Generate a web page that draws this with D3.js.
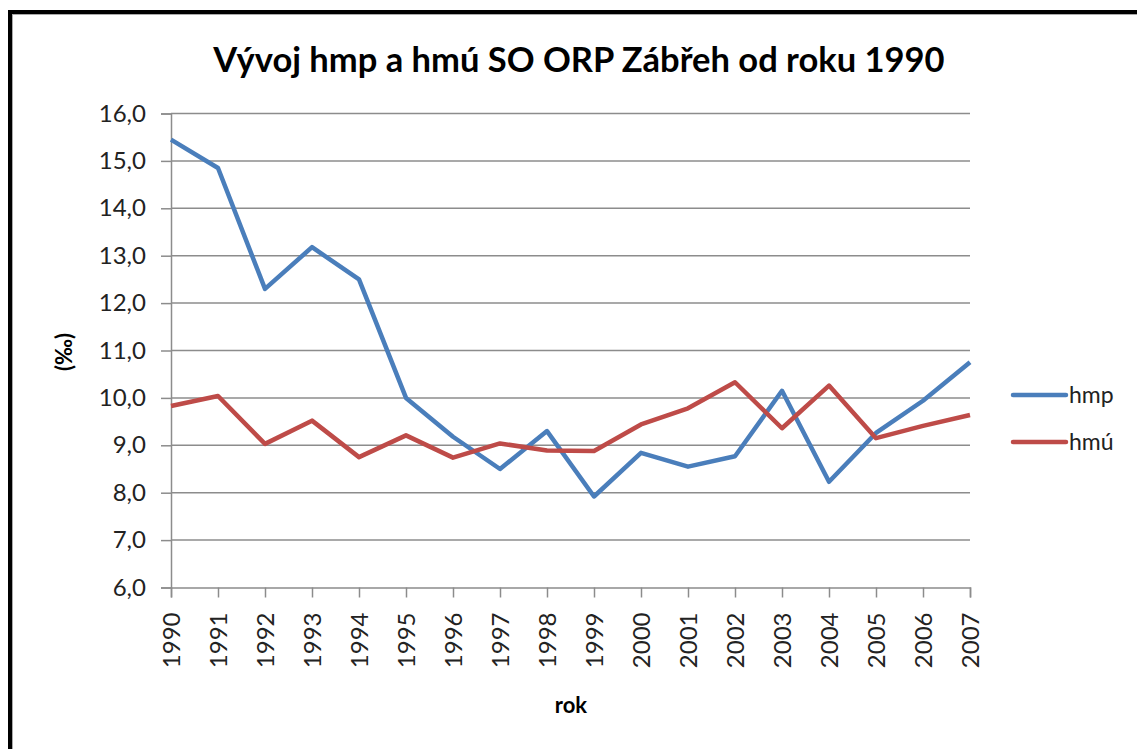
<!DOCTYPE html>
<html>
<head>
<meta charset="utf-8">
<script src="https://cdn.jsdelivr.net/npm/d3@7"></script>
<style>
  body { margin: 0; background: #fff; }
  text { font-family: Lato, "Open Sans", sans-serif; fill: #000; }
</style>
</head>
<body>
<svg id="chart" width="1137" height="749"></svg>
<script>
// data
var years = [1990, 1991, 1992, 1993, 1994, 1995, 1996, 1997, 1998, 1999,
             2000, 2001, 2002, 2003, 2004, 2005, 2006, 2007];
var hmp = [15.45, 14.85, 12.3, 13.18, 12.5, 10.0, 9.18, 8.5, 9.3, 7.92,
           8.84, 8.55, 8.77, 10.15, 8.23, 9.26, 9.94, 10.75];
var hmu = [9.83, 10.04, 9.03, 9.52, 8.75, 9.21, 8.74, 9.04, 8.89, 8.88,
           9.44, 9.78, 10.33, 9.36, 10.26, 9.15, 9.41, 9.64];
var yTicks = [6, 7, 8, 9, 10, 11, 12, 13, 14, 15, 16];
var seriesNames = ["hmp", "hmú"];
var colors = ["#4a7ebb", "#be4b48"];

var svg = d3.select('#chart');
var margin = { top: 113.5, left: 171, right: 167, bottom: 161.5 };
var width = 1137 - margin.left - margin.right,
    height = 749 - margin.top - margin.bottom;

// outer frame (cut off at right and bottom like the reference)
svg.append('rect')
  .attr('x', 10).attr('y', 12)
  .attr('width', 1200).attr('height', 800)
  .attr('fill', 'none')
  .attr('stroke', '#000')
  .attr('stroke-width', 4);
svg.append('rect')
  .attr('x', 12.5).attr('y', 14.5)
  .attr('width', 1200).attr('height', 800)
  .attr('fill', 'none')
  .attr('stroke', '#aaa')
  .attr('stroke-width', 1);

var x = d3.scaleLinear()
  .domain([years[0], years[years.length - 1]])
  .range([0, width]);
var y = d3.scaleLinear()
  .domain([6, 16])
  .range([height, 0]);

var g = svg.append('g')
  .attr('transform', 'translate(' + margin.left + ',' + margin.top + ')');

// y axis with gridlines
var yAxis = g.append('g')
  .call(d3.axisLeft(y)
    .tickValues(yTicks)
    .tickSize(10)
    .tickPadding(15)
    .tickFormat(function(d) { return d3.format('.1f')(d).replace('.', ','); }));
yAxis.select('.domain').attr('stroke', '#8c8c8c').attr('stroke-width', 1.5);
yAxis.selectAll('.tick line').attr('stroke', '#8c8c8c').attr('stroke-width', 1.5);
yAxis.selectAll('.tick text')
  .style('font-size', '24px')
  .style('fill', '#222');

g.append('g')
  .selectAll('line')
  .data(yTicks.slice(1))
  .enter().append('line')
  .attr('x1', 0).attr('x2', width)
  .attr('y1', function(d) { return y(d); })
  .attr('y2', function(d) { return y(d); })
  .attr('stroke', '#8c8c8c')
  .attr('stroke-width', 1.5);

// x axis
var xAxis = g.append('g')
  .attr('transform', 'translate(0,' + height + ')')
  .call(d3.axisBottom(x)
    .tickValues(years)
    .tickSize(10)
    .tickFormat(d3.format('d')));
xAxis.select('.domain').attr('stroke', '#8c8c8c').attr('stroke-width', 1.5);
xAxis.selectAll('.tick line').attr('stroke', '#8c8c8c').attr('stroke-width', 1.5);
xAxis.selectAll('.tick text')
  .style('font-size', '24px')
  .style('fill', '#222')
  .attr('text-anchor', 'end')
  .attr('dy', '0.35em')
  .attr('transform', 'translate(0,25) rotate(-90)')
  .attr('x', 0).attr('y', 0);

// lines
var line = d3.line()
  .x(function(d, i) { return x(years[i]); })
  .y(function(d) { return y(d); });

[hmp, hmu].forEach(function(s, i) {
  g.append('path')
    .datum(s)
    .attr('fill', 'none')
    .attr('stroke', colors[i])
    .attr('stroke-width', 4.5)
    .attr('stroke-linejoin', 'round')
    .attr('d', line);
});

// title
svg.append('text')
  .attr('x', 579).attr('y', 72)
  .attr('text-anchor', 'middle')
  .style('font-size', '34.5px')
  .style('font-weight', 'bold')
  .text('Vývoj hmp a hmú SO ORP Zábřeh od roku 1990');

// axis titles
svg.append('text')
  .attr('transform', 'translate(72,352) rotate(-90)')
  .attr('text-anchor', 'middle')
  .style('font-size', '22px')
  .style('font-weight', 'bold')
  .text('(‰)');

svg.append('text')
  .attr('x', 571).attr('y', 713)
  .attr('text-anchor', 'middle')
  .style('font-size', '22px')
  .style('font-weight', 'bold')
  .text('rok');

// legend
var legend = svg.append('g');
seriesNames.forEach(function(name, i) {
  var ly = 395 + i * 47;
  legend.append('line')
    .attr('x1', 1013).attr('x2', 1066)
    .attr('y1', ly).attr('y2', ly)
    .attr('stroke', colors[i])
    .attr('stroke-width', 4.5)
    .attr('stroke-linecap', 'round');
  legend.append('text')
    .attr('x', 1069).attr('y', ly + 8)
    .style('font-size', '23px')
    .style('fill', '#222')
    .text(name);
});
</script>
</body>
</html>
